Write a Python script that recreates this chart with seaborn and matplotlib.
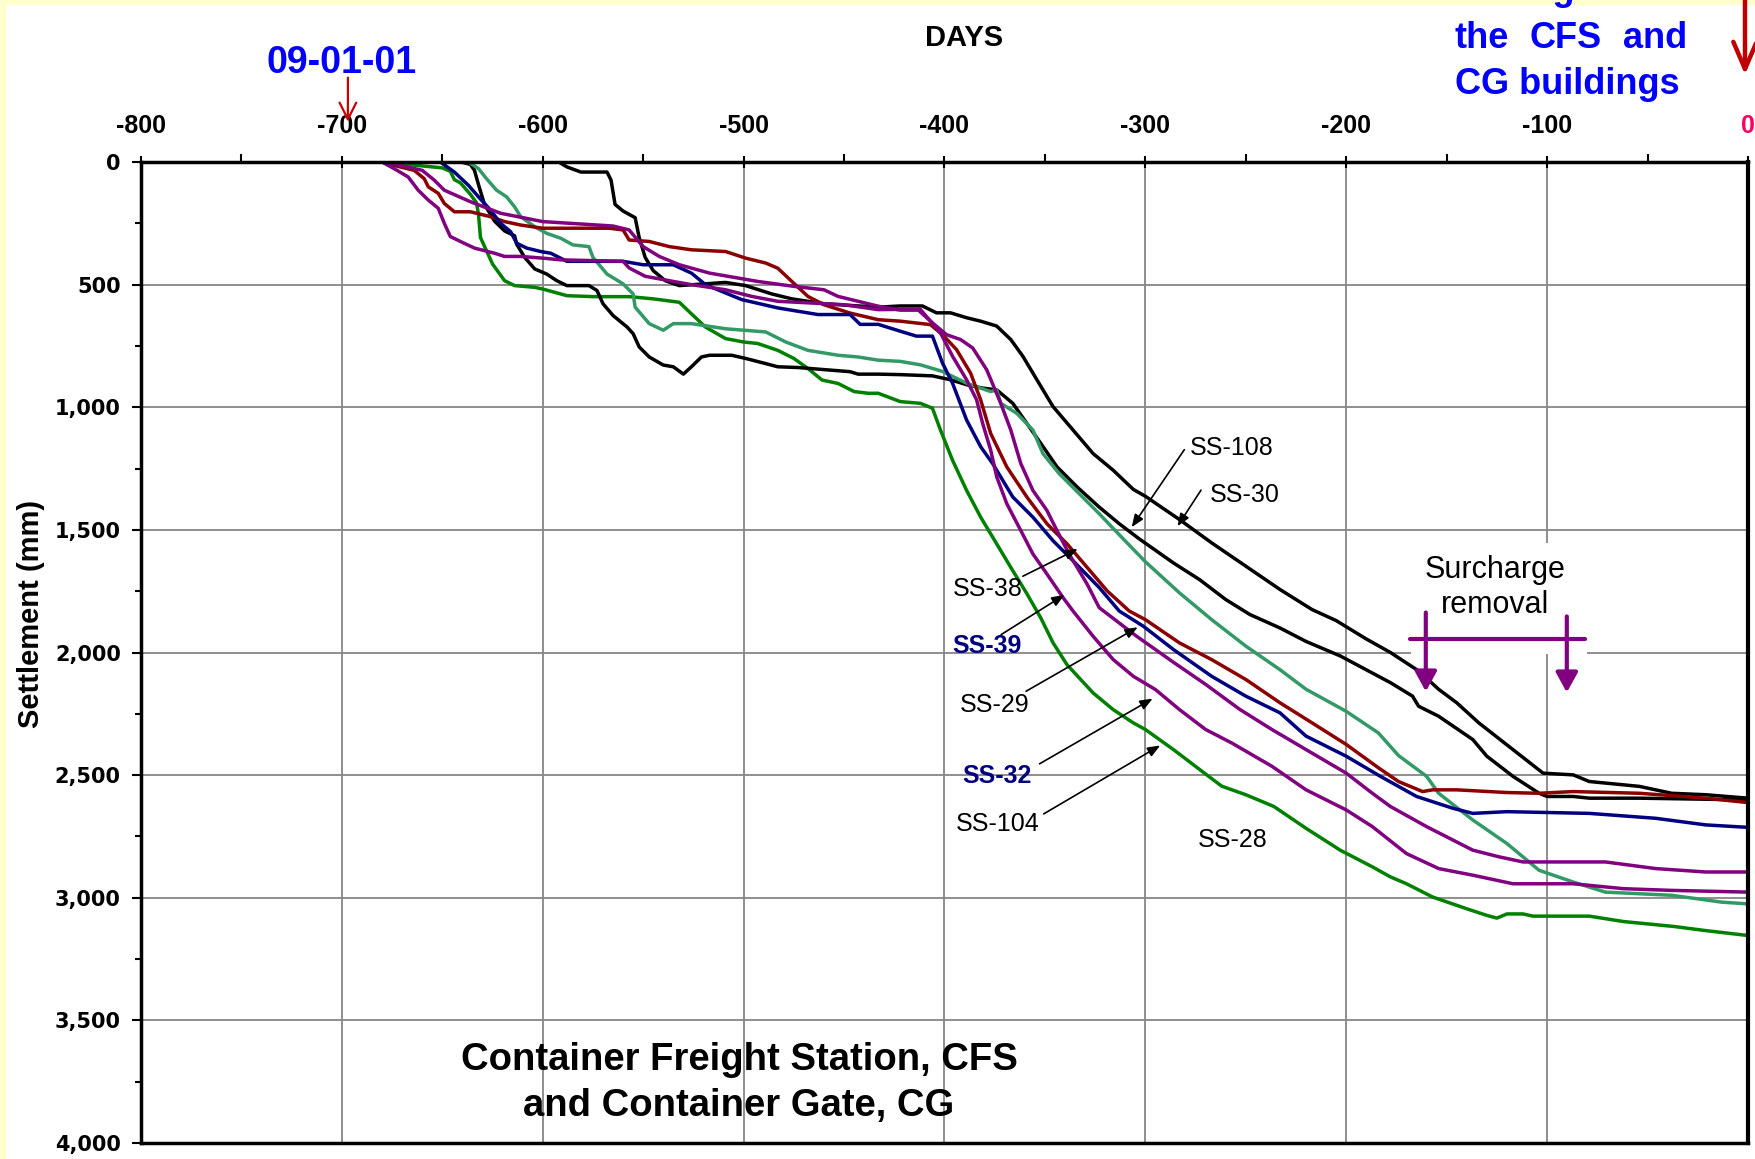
import matplotlib
matplotlib.use("Agg")
import matplotlib.pyplot as plt
from matplotlib.patches import Rectangle
from matplotlib.ticker import MultipleLocator
import seaborn as sns
import pandas as pd

# settlement plate readings, days before pile driving vs settlement (mm)
ss28_day = [-680, -650, -646, -644, -641, -636, -633, -632, -631, -628, -625, -619, -614, -604, -600,
            -588, -575, -557, -545, -532, -526, -519, -509, -500, -493, -483, -475, -468, -461, -453,
            -445, -438, -433, -422, -412, -406, -402, -396, -389, -382, -376, -367, -359, -352, -346,
            -339, -326, -316, -306, -300, -286, -273, -262, -250, -236, -220, -203, -187, -178, -170,
            -157, -140, -130, -125, -120, -112, -107, -79, -62, -37, -21, 0]
ss28_mm = [0, 24, 38, 72, 85, 132, 166, 213, 308, 362, 416, 484, 504, 511, 518,
           545, 549, 549, 558, 572, 619, 673, 720, 734, 740, 768, 801, 842, 889, 903,
           936, 943, 943, 977, 984, 1004, 1093, 1216, 1339, 1448, 1530, 1653, 1760, 1860, 1960,
           2050, 2165, 2233, 2287, 2314, 2396, 2477, 2545, 2580, 2628, 2717, 2806, 2874, 2915, 2943,
           2997, 3045, 3072, 3083, 3066, 3066, 3075, 3075, 3097, 3117, 3134, 3154]

ss108_day = [-656, -650, -642, -636, -634, -632, -629, -624, -619, -614, -613, -609, -604, -598, -593,
             -588, -577, -573, -570, -565, -558, -555, -552, -547, -540, -535, -530, -526, -521, -517,
             -506, -499, -489, -483, -473, -447, -443, -433, -422, -406, -397, -389, -381, -374, -366,
             -359, -352, -344, -334, -323, -313, -303, -286, -273, -260, -248, -233, -220, -203, -178,
             -167, -164, -154, -137, -130, -117, -104, -100, -87, -79, -54, 0]
ss108_mm = [0, -6, -3, 10, 34, 92, 173, 241, 281, 301, 335, 389, 436, 457, 484,
            504, 504, 524, 578, 626, 673, 700, 754, 795, 828, 835, 865, 835, 795, 788,
            788, 801, 822, 835, 838, 855, 865, 865, 867, 872, 888, 908, 922, 929, 984,
            1066, 1148, 1243, 1325, 1407, 1475, 1537, 1635, 1703, 1784, 1845, 1900, 1955, 2014, 2123,
            2178, 2219, 2260, 2355, 2423, 2505, 2574, 2587, 2587, 2594, 2594, 2601]

ss30_day = [-592, -588, -581, -568, -566, -564, -560, -554, -552, -549, -545, -539, -532, -509, -499,
            -486, -476, -460, -433, -422, -411, -404, -397, -389, -382, -374, -367, -361, -354, -346,
            -336, -326, -316, -306, -300, -283, -267, -250, -233, -217, -205, -190, -178, -164, -154,
            -145, -134, -117, -102, -87, -79, -54, -38, -21, 0]
ss30_mm = [0, 20, 41, 41, 74, 173, 200, 227, 308, 389, 443, 484, 504, 491, 504,
           538, 558, 578, 592, 587, 587, 615, 615, 635, 649, 669, 724, 792, 888, 997,
           1093, 1189, 1257, 1335, 1363, 1458, 1553, 1648, 1743, 1825, 1870, 1945, 2000, 2075, 2150,
           2205, 2287, 2396, 2492, 2499, 2526, 2546, 2574, 2580, 2594]

teal_day = [-637, -632, -628, -623, -618, -614, -611, -604, -598, -591, -585, -577, -575, -568, -560,
            -555, -554, -547, -540, -535, -526, -509, -489, -479, -468, -453, -443, -433, -422, -412,
            -401, -389, -382, -377, -374, -372, -364, -356, -351, -343, -333, -323, -313, -300, -283,
            -267, -250, -233, -220, -200, -184, -174, -160, -154, -137, -120, -104, -87, -71, -38,
            -13, 0]
teal_mm = [0, 27, 68, 115, 142, 183, 223, 264, 291, 311, 338, 345, 389, 457, 497,
           538, 592, 659, 686, 659, 659, 680, 693, 734, 768, 788, 795, 808, 813, 827,
           854, 902, 922, 936, 929, 984, 1025, 1093, 1189, 1270, 1352, 1434, 1520, 1630, 1757,
           1866, 1974, 2070, 2150, 2240, 2328, 2420, 2505, 2574, 2683, 2779, 2888, 2936, 2977, 2990,
           3018, 3025]

ss38_day = [-680, -674, -664, -659, -657, -652, -649, -644, -636, -626, -619, -611, -600, -567, -560,
            -557, -547, -537, -526, -509, -499, -489, -483, -476, -468, -460, -447, -433, -422, -407,
            -401, -394, -387, -382, -377, -369, -359, -349, -339, -329, -319, -308, -300, -283, -267,
            -250, -233, -217, -200, -184, -174, -162, -157, -145, -120, -104, -87, -54, -21, 0]
ss38_mm = [0, 14, 34, 68, 101, 128, 169, 203, 203, 223, 243, 257, 270, 270, 277,
           318, 324, 345, 358, 365, 392, 412, 433, 487, 548, 582, 616, 643, 649, 663,
           704, 765, 861, 970, 1107, 1243, 1366, 1475, 1557, 1653, 1749, 1831, 1866, 1961, 2029,
           2110, 2205, 2287, 2375, 2470, 2526, 2567, 2560, 2560, 2571, 2574, 2567, 2574, 2594, 2612]

ss39_day = [-680, -651, -644, -637, -632, -626, -621, -616, -613, -608, -601, -596, -588, -560, -550,
            -535, -526, -519, -509, -501, -483, -463, -447, -442, -433, -422, -414, -406, -401, -396,
            -389, -382, -376, -366, -356, -346, -336, -323, -313, -301, -286, -267, -250, -233, -220,
            -200, -183, -165, -147, -137, -120, -79, -46, -21, 0]
ss39_mm = [0, 0, 41, 95, 142, 196, 250, 284, 331, 351, 365, 372, 405, 405, 419,
           419, 453, 500, 534, 561, 595, 622, 622, 662, 662, 690, 710, 710, 820, 902,
           1052, 1161, 1230, 1366, 1448, 1544, 1626, 1735, 1831, 1893, 1988, 2097, 2178, 2246, 2341,
           2423, 2505, 2587, 2635, 2656, 2649, 2656, 2676, 2703, 2713]

ss29_day = [-680, -673, -660, -654, -649, -636, -621, -600, -565, -557, -550, -542, -532, -517, -493,
            -475, -460, -453, -433, -422, -413, -406, -399, -392, -386, -379, -372, -367, -362, -356,
            -349, -344, -338, -329, -323, -305, -286, -270, -253, -237, -220, -200, -187, -178, -160,
            -137, -124, -112, -71, -46, -21, 0]
ss29_mm = [0, 10, 34, 74, 115, 162, 209, 243, 261, 277, 345, 385, 419, 453, 487,
           507, 521, 548, 588, 604, 604, 656, 704, 724, 758, 847, 984, 1093, 1230, 1339,
           1421, 1503, 1598, 1721, 1817, 1930, 2040, 2130, 2232, 2314, 2396, 2492, 2574, 2628, 2710,
           2806, 2833, 2854, 2854, 2881, 2895, 2895]

ss32_day = [-680, -674, -667, -662, -657, -652, -649, -646, -641, -634, -624, -619, -611, -600, -591,
            -560, -557, -549, -535, -526, -509, -496, -483, -466, -450, -433, -422, -412, -402, -396,
            -389, -384, -381, -377, -374, -369, -362, -356, -349, -341, -336, -326, -316, -306, -295,
            -283, -270, -257, -237, -220, -200, -187, -170, -154, -137, -117, -87, -62, -38, 0]
ss32_mm = [0, 27, 61, 115, 155, 189, 250, 304, 324, 351, 372, 385, 385, 392, 399,
           405, 432, 466, 487, 500, 521, 548, 568, 575, 582, 602, 601, 601, 697, 792,
           888, 970, 1066, 1175, 1284, 1393, 1503, 1598, 1680, 1776, 1831, 1934, 2029, 2097, 2151,
           2233, 2314, 2369, 2464, 2560, 2642, 2710, 2820, 2881, 2908, 2943, 2943, 2963, 2970, 2977]

series = {
    'SS-28': (ss28_day, ss28_mm),
    'SS-108': (ss108_day, ss108_mm),
    'SS-30': (ss30_day, ss30_mm),
    'SS-104': (teal_day, teal_mm),
    'SS-38': (ss38_day, ss38_mm),
    'SS-39': (ss39_day, ss39_mm),
    'SS-29': (ss29_day, ss29_mm),
    'SS-32': (ss32_day, ss32_mm),
}
palette = {'SS-28': '#008000', 'SS-108': '#000000', 'SS-30': '#000000', 'SS-104': '#339966',
           'SS-38': '#8B0000', 'SS-39': '#000080', 'SS-29': '#800080', 'SS-32': '#800080'}

x_ticks = [-800, -700, -600, -500, -400, -300, -200, -100, 0]
x_tick_labels = ['-800', '-700', '-600', '-500', '-400', '-300', '-200', '-100', '0']
y_ticks = [0, 500, 1000, 1500, 2000, 2500, 3000, 3500, 4000]
y_tick_labels = ['0', '500', '1,000', '1,500', '2,000', '2,500', '3,000', '3,500', '4,000']

# callout labels: text, left x, y, arrow start, arrow tip
callouts = [
    ('SS-108', -278, 1166, (-280.6, 1173), (-306.8, 1489)),
    ('SS-30', -268, 1356, (-272.3, 1338), (-284, 1485)),
    ('SS-38', -396, 1743, (-361, 1689), (-333.7, 1578)),
    ('SS-39', -396, 1974, (-371.8, 1927), (-340.3, 1765)),
    ('SS-29', -392.5, 2216, (-359.4, 2158), (-303.8, 1897)),
    ('SS-32', -391, 2504, (-352.7, 2454), (-296.4, 2188)),
    ('SS-104', -394.6, 2699, (-350.6, 2658), (-292.6, 2379)),
    ('SS-28', -274, 2763, None, None),
]

frames = []
for name, (d, s) in series.items():
    frames.append(pd.DataFrame({'Day': d, 'Settlement': s, 'Point': name}))
df = pd.concat(frames, ignore_index=True)

sns.set_style("white")
plt.rcParams['font.family'] = ['Liberation Sans', 'DejaVu Sans']
plt.rcParams['text.color'] = 'black'
plt.rcParams['axes.labelcolor'] = 'black'
plt.rcParams['xtick.color'] = 'black'
plt.rcParams['ytick.color'] = 'black'

W, H = 1756, 1159
fig = plt.figure(figsize=(W / 100, H / 100), dpi=100)
fig.patch.set_facecolor('#FFFFCC')
fig.add_artist(Rectangle((6 / W, 0), 1, 1 - 5 / H, transform=fig.transFigure,
                         facecolor='white', edgecolor='none', zorder=-10))
ax = fig.add_axes([141 / W, 16 / H, 1607 / W, 981 / H])

sns.lineplot(data=df, x='Day', y='Settlement', hue='Point', palette=palette,
             estimator=None, sort=False, linewidth=2.5, legend=False, ax=ax)

ax.set_xlim(-800, 0)
ax.set_ylim(4000, 0)
ax.xaxis.tick_top()
ax.set_xticks(x_ticks)
ax.set_xticklabels(x_tick_labels, fontsize=18, fontweight='bold')
ax.get_xticklabels()[-1].set_color('#FF0066')
ax.set_yticks(y_ticks)
ax.set_yticklabels(y_tick_labels, fontsize=15, fontweight='bold', family='DejaVu Sans')
ax.xaxis.set_minor_locator(MultipleLocator(50))
ax.yaxis.set_minor_locator(MultipleLocator(250))
ax.tick_params(axis='x', which='major', direction='inout', length=8, width=1.5, pad=13,
               top=True, bottom=False, labeltop=True, labelbottom=False, colors='black')
ax.tick_params(axis='x', which='minor', direction='out', length=5.5, width=1.5, top=True, bottom=False)
ax.tick_params(axis='y', which='major', direction='out', length=6.5, width=1.5, pad=8, left=True,
               colors='black')
ax.tick_params(axis='y', which='minor', direction='out', length=4.5, width=1.5, left=True)
ax.get_xticklabels()[-1].set_color('#FF0066')
ax.grid(True, which='major', color='#868686', lw=1.3)
ax.set_axisbelow(True)
for sp in ax.spines.values():
    sp.set_visible(True)
    sp.set_color('black')
    sp.set_linewidth(2.5)
ax.spines['right'].set_linewidth(3)
ax.set_xlabel('')
ax.set_ylabel('')

# curve labels
for text, tx, ty, start, tip in callouts:
    bold = text in ('SS-39', 'SS-32')
    ax.text(tx, ty, text, fontsize=18, ha='left', va='center',
            color='#000080' if bold else 'black', fontweight='bold' if bold else 'normal')
    if tip is not None:
        ax.annotate('', xy=tip, xytext=start,
                    arrowprops=dict(arrowstyle='-|>,head_length=0.5,head_width=0.2', color='black',
                                    lw=1.2, mutation_scale=15, shrinkA=0, shrinkB=0))

# surcharge removal bracket
ax.add_patch(Rectangle((-168, 1552), 88, 456, facecolor='white', edgecolor='none', zorder=1))
ax.text(-126, 1735, 'Surcharge\nremoval', fontsize=22, ha='center', va='center', zorder=3)
ax.plot([-168.4, -81.3], [1943, 1943], color='#800080', lw=3, zorder=3)
for xa, y0, y1 in [(-160.4, 1837, 2159), (-90.2, 1853, 2163)]:
    ax.annotate('', xy=(xa, y1), xytext=(xa, y0),
                arrowprops=dict(arrowstyle='-|>,head_length=0.6,head_width=0.33', color='#800080',
                                lw=3, mutation_scale=20, shrinkA=0, shrinkB=0), zorder=3)

# red markers above the axis
trans = ax.get_xaxis_transform()
ax.annotate('', xy=(-697, 1.041), xytext=(-697, 1.086), xycoords=trans, textcoords=trans,
            annotation_clip=False,
            arrowprops=dict(arrowstyle='->,head_length=0.6,head_width=0.3', color='#CC0000',
                            lw=1.6, mutation_scale=20, shrinkA=0, shrinkB=0))
ax.annotate('', xy=(-1.5, 1.089), xytext=(-1.5, 1.2), xycoords=trans, textcoords=trans,
            annotation_clip=False,
            arrowprops=dict(arrowstyle='->,head_length=0.7,head_width=0.3', color='#C00000',
                            lw=3.2, mutation_scale=28, shrinkA=0, shrinkB=0))

fig.text(964 / W, 1 - 38 / H, 'DAYS', ha='center', va='center', fontsize=21, fontweight='bold')
fig.text(342 / W, 1 - 63 / H, '09-01-01', ha='center', va='center', fontsize=27,
         fontweight='bold', color='#0000FF')
fig.text(31 / W, 1 - 614 / H, 'Settlement (mm)', rotation=90, ha='center', va='center',
         fontsize=21, fontweight='bold')
fig.text(739 / W, 1 - 1083 / H, 'Container Freight Station, CFS\nand Container Gate, CG',
         ha='center', va='center', fontsize=27.5, fontweight='bold', linespacing=1.38)

# note in the top right corner (justified lines)
note_words = [('driving', 1455, -10, 'left'), ('for', 1683, -10, 'right'),
              ('the', 1455, 38, 'left'), ('CFS', 1566, 38, 'center'), ('and', 1687, 38, 'right'),
              ('CG buildings', 1455, 84, 'left')]
for word, px, py, ha in note_words:
    fig.text(px / W, 1 - py / H, word, ha=ha, va='center', fontsize=26,
             fontweight='bold', color='#0000FF')

fig.savefig('out.png', dpi=100, facecolor=fig.get_facecolor())
